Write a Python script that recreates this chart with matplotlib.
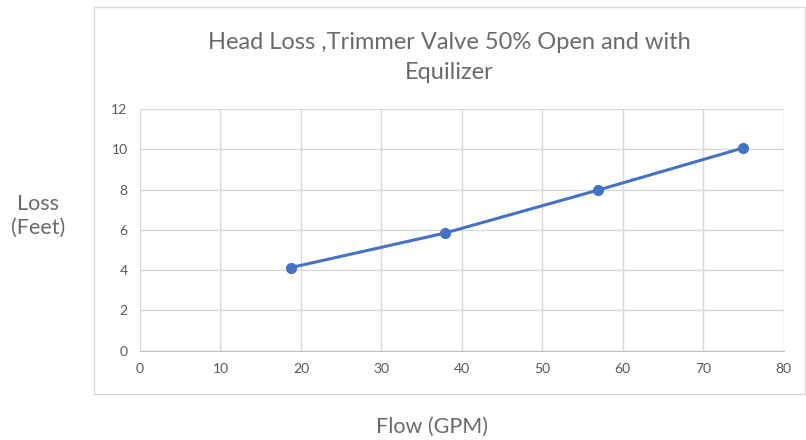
import matplotlib
matplotlib.use("Agg")
import matplotlib.pyplot as plt
from matplotlib.patches import Rectangle

flow = [18.8, 37.9, 57.0, 75.0]
loss = [4.13, 5.84, 7.98, 10.07]
x_ticks = [0, 10, 20, 30, 40, 50, 60, 70, 80]
y_ticks = [0, 2, 4, 6, 8, 10, 12]
title = "Head Loss ,Trimmer Valve 50% Open and with\nEquilizer"

plt.rcParams['font.family'] = ['Lato', 'DejaVu Sans']
W, H = 806, 440
fig = plt.figure(figsize=(W/100, H/100), dpi=100)

# chart box
fig.patches.append(Rectangle((94/W, 1-394/H), (805-94)/W, (394-7)/H,
                             transform=fig.transFigure, fill=False,
                             edgecolor='#d9d9d9', linewidth=1.0))

ax = fig.add_axes([140/W, 1-350.7/H, (783.5-140)/W, (350.7-109)/H])
ax.plot(flow, loss, color='#4472C4', linewidth=2.2, marker='o', markersize=7)
ax.set_xlim(0, 80)
ax.set_ylim(0, 12)
ax.set_xticks(x_ticks)
ax.set_yticks(y_ticks)
ax.grid(True, color='#d9d9d9', linewidth=1.0)
ax.set_axisbelow(True)
for s in ['top', 'right', 'left']:
    ax.spines[s].set_visible(False)
ax.spines['bottom'].set_color('#bfbfbf')
ax.tick_params(length=0, labelsize=10, colors='#595959', pad=9)

fig.text(449/W, 1-57.5/H, title, ha='center', va='center', fontsize=17,
         color='#6a6a6a', linespacing=1.5)
fig.text(38/W, 1-216/H, "Loss\n(Feet)", ha='center', va='center', fontsize=15.5,
         color='#6a6a6a', linespacing=1.2)
fig.text(432/W, 1-427/H, "Flow (GPM)", ha='center', va='center', fontsize=15.5,
         color='#6a6a6a')

fig.savefig("out.png", dpi=100)
